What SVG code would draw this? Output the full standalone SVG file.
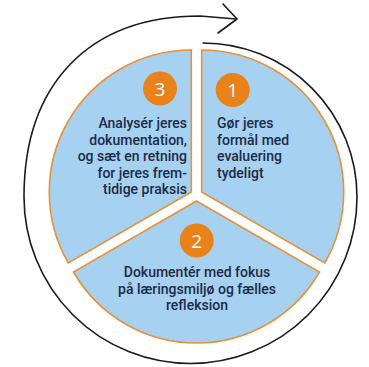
<svg xmlns="http://www.w3.org/2000/svg" width="369" height="367" viewBox="0 0 369 367">
  <style>
    .sector { fill: #a6d1f1; stroke: #e8913a; stroke-width: 1.6; stroke-linejoin: miter; }
    .badge { fill: #e9821a; }
    .num { font-family: "Open Sans", "Liberation Sans", sans-serif; font-size: 19px; font-weight: 400; fill: #ffffff; text-anchor: middle; }
    .label { font-family: Roboto, "Open Sans", "Liberation Sans", sans-serif; font-size: 14px; font-weight: 500; fill: #1d2b47; }
    .cycle { fill: none; stroke: #1a1a1a; stroke-width: 1.6; stroke-linecap: round; stroke-linejoin: round; }
  </style>
  <rect width="369" height="367" fill="#ffffff"/>
  <g id="connectors">
    <path class="cycle" d="M 203 43 A 154 154 0 0 1 357 197 A 166.5 166.5 0 0 1 190.5 363.5 A 166.5 166.5 0 0 1 24 197 C 24 85 88 16 200 16 L 236 19"/>
    <path class="cycle" d="M 223 4 L 237 19 L 218 33"/>
  </g>
  <g id="step1">
    <path class="sector" d="M 201.7 192 L 201.7 50 A 142 142 0 0 1 324.7 263 Z"/>
    <circle class="badge" cx="232.7" cy="90" r="17"/>
    <text class="num" x="232.7" y="97">1</text>
    <text class="label" x="217" y="128">Gør jeres</text>
    <text class="label" x="217" y="144.5">formål med</text>
    <text class="label" x="217" y="161">evaluering</text>
    <text class="label" x="217" y="177.5">tydeligt</text>
  </g>
  <g id="step2">
    <path class="sector" d="M 196.5 201 L 319.5 272 A 142 142 0 0 1 73.5 272 Z"/>
    <circle class="badge" cx="196.7" cy="240.5" r="17"/>
    <text class="num" x="196.7" y="247.5">2</text>
    <text class="label" x="197" y="277" text-anchor="middle">Dokumentér med fokus</text>
    <text class="label" x="197" y="293.5" text-anchor="middle">på læringsmiljø og fælles</text>
    <text class="label" x="197" y="310" text-anchor="middle">refleksion</text>
  </g>
  <g id="step3">
    <path class="sector" d="M 191.3 192 L 68.3 263 A 142 142 0 0 1 191.3 50 Z"/>
    <circle class="badge" cx="160" cy="88.5" r="17"/>
    <text class="num" x="160" y="95.5">3</text>
    <text class="label" x="187" y="128" text-anchor="end">Analysér jeres</text>
    <text class="label" x="187" y="144.5" text-anchor="end">dokumentation,</text>
    <text class="label" x="187" y="161" text-anchor="end">og sæt en retning</text>
    <text class="label" x="187" y="177.5" text-anchor="end">for jeres frem-</text>
    <text class="label" x="187" y="194" text-anchor="end">tidige praksis</text>
  </g>
</svg>
